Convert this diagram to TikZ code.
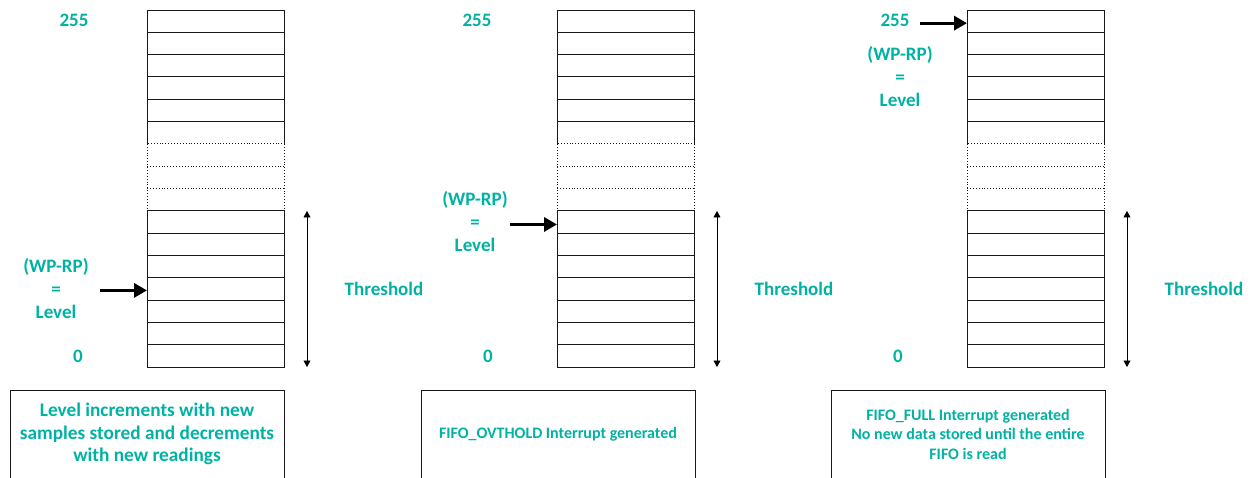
\documentclass[tikz,border=0pt]{standalone}
\usepackage{fontspec}
\setmainfont{Carlito}
\usetikzlibrary{arrows.meta}
\definecolor{tealtxt}{RGB}{0,178,163}
\begin{document}
\begin{tikzpicture}[x=1pt,y=-1pt,
  cell/.style={rectangle,minimum width=137pt,minimum height=22.3125pt,inner sep=0pt,outer sep=0pt},
  gridline/.style={line width=0.9pt,draw=black!90},
  dotline/.style={line width=0.9pt,dotted,draw=black!90},
  lbl/.style={text=tealtxt,font=\bfseries\fontsize{19}{23}\selectfont,inner sep=0pt,align=center},
  smalllbl/.style={text=tealtxt,font=\bfseries\fontsize{16}{19.5}\selectfont,inner sep=0pt,align=center},
  infobox/.style={rectangle,minimum width=274pt,minimum height=88pt,inner sep=0pt,outer sep=0pt},
  boxline/.style={line width=0.9pt,draw=black!90},
  levelarrow/.style={line width=3.2pt,-{Triangle[length=13pt,width=14pt]}},
  thrarrow/.style={line width=0.8pt,{Triangle[length=6.5pt,width=7pt]}-{Triangle[length=6.5pt,width=7pt]}},
]
\useasboundingbox (0,0) rectangle (1250,478);
\clip (0,0) rectangle (1250,478);

\foreach \c/\xl in {1/147,2/557,3/967}{
  \foreach \i in {0,...,15}{
    \node[cell] (c\c-\i) at ({\xl+68.5},{10+(\i+0.5)*22.3125}) {};
  }
  % solid upper block
  \draw[gridline] (c\c-5.south west) -- (c\c-0.north west) -- (c\c-0.north east) -- (c\c-5.south east);
  \foreach \i in {0,...,4}{
    \draw[gridline] (c\c-\i.south west) -- (c\c-\i.south east);
  }
  % dotted block
  \draw[dotline] (c\c-6.north west) rectangle (c\c-8.south east);
  \draw[dotline] (c\c-6.south west) -- (c\c-6.south east);
  \draw[dotline] (c\c-7.south west) -- (c\c-7.south east);
  % solid lower block
  \draw[gridline] (c\c-9.north west) -- (c\c-15.south west) -- (c\c-15.south east) -- (c\c-9.north east) -- cycle;
  \foreach \i in {9,...,14}{
    \draw[gridline] (c\c-\i.south west) -- (c\c-\i.south east);
  }
  % threshold arrow and label
  \coordinate (ta\c) at ({\xl+160},211);
  \coordinate (tb\c) at ({\xl+160},367);
  \draw[thrarrow] (ta\c) -- (tb\c);
  \node[lbl] (thr\c) at ({\xl+237},289) {Threshold};
  % zero label
  \node[lbl] (zero\c) at ({\xl-69},356) {0};
}

% 255 labels
\node[lbl] (top1) at (74,20) {255};
\node[lbl] (top2) at (477,20) {255};
\node[lbl] (top3) at (895,20) {255};

% level labels and arrows
\node[lbl] (lev1) at (56,289) {(WP-RP)\\=\\Level};
\coordinate (lt1) at ([yshift=-1.5pt]c1-12.west);
\coordinate (ls1) at ([xshift=-47pt]lt1);
\draw[levelarrow] (ls1) -- (lt1);

\node[lbl] (lev2) at (475,222) {(WP-RP)\\=\\Level};
\coordinate (lt2) at ([yshift=-2.5pt]c2-9.west);
\coordinate (ls2) at ([xshift=-47pt]lt2);
\draw[levelarrow] (ls2) -- (lt2);

\node[lbl] (lev3) at (900,77) {(WP-RP)\\=\\Level};
\coordinate (lt3) at ([yshift=-2pt]c3-0.west);
\coordinate (ls3) at ([xshift=-47pt]lt3);
\draw[levelarrow] (ls3) -- (lt3);

% bottom boxes
\node[infobox] (box1) at (147,434) {};
\node[infobox] (box2) at (558,434) {};
\node[infobox] (box3) at (968,434) {};
\foreach \b in {1,2,3}{
  \draw[boxline] ([yshift=-10pt]box\b.south west) -- (box\b.north west) -- (box\b.north east) -- ([yshift=-10pt]box\b.south east);
}
\node[lbl,font=\bfseries\fontsize{19.3}{22.5}\selectfont] (txt1) at (box1.center) {Level increments with new\\samples stored and decrements\\with new readings};
\node[smalllbl] (txt2) at (box2.center) {FIFO\_OVTHOLD Interrupt generated};
\node[smalllbl] (txt3) at (box3.center) {FIFO\_FULL Interrupt generated\\No new data stored until the entire\\FIFO is read};
\end{tikzpicture}
\end{document}
